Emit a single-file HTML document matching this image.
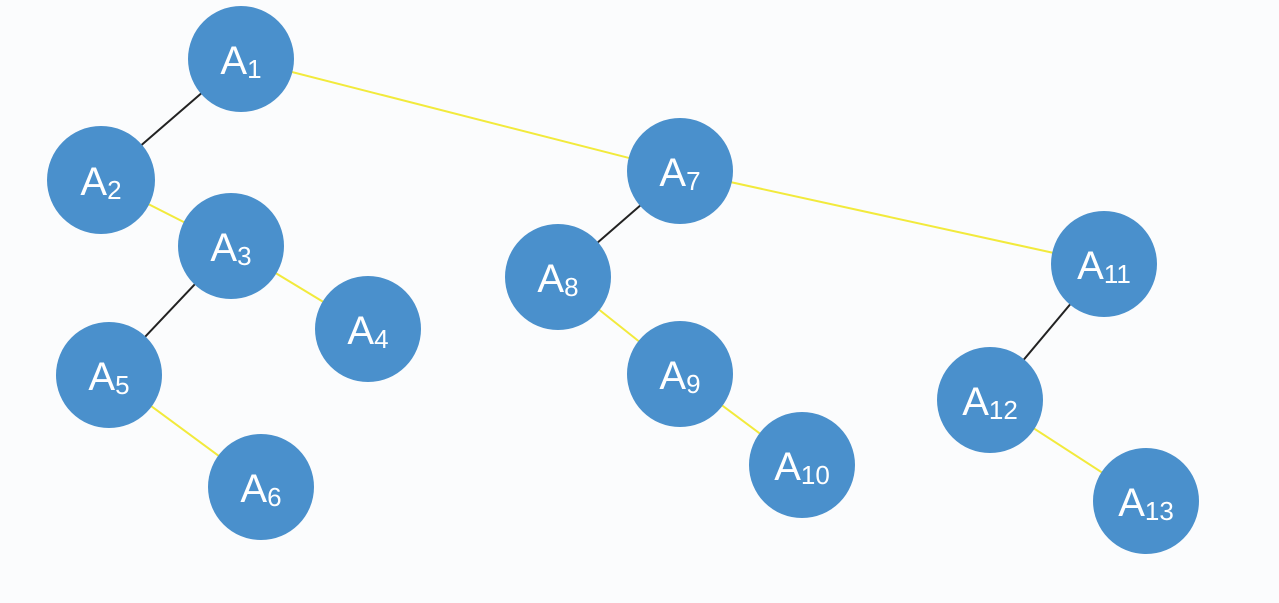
<!DOCTYPE html>
<html><head><meta charset="utf-8"><style>
html,body{margin:0;padding:0;background:#fbfcfd;}
svg{display:block}
text{font-family:"Liberation Sans",sans-serif;fill:#fff;}
</style></head><body>
<svg width="1279" height="603" viewBox="0 0 1279 603">
<rect width="1279" height="603" fill="#fbfcfd"/>
<g stroke-width="2">
<line x1="241" y1="59" x2="101" y2="180" stroke="#222"/>
<line x1="241" y1="59" x2="680" y2="171" stroke="#f2ea3c"/>
<line x1="101" y1="180" x2="231" y2="246" stroke="#f2ea3c"/>
<line x1="231" y1="246" x2="109" y2="375" stroke="#222"/>
<line x1="231" y1="246" x2="368" y2="329" stroke="#f2ea3c"/>
<line x1="109" y1="375" x2="261" y2="487" stroke="#f2ea3c"/>
<line x1="680" y1="171" x2="558" y2="277" stroke="#222"/>
<line x1="680" y1="171" x2="1104" y2="264" stroke="#f2ea3c"/>
<line x1="558" y1="277" x2="680" y2="374" stroke="#f2ea3c"/>
<line x1="680" y1="374" x2="802" y2="465" stroke="#f2ea3c"/>
<line x1="1104" y1="264" x2="990" y2="400" stroke="#222"/>
<line x1="990" y1="400" x2="1146" y2="501" stroke="#f2ea3c"/>
</g>
<g fill="#4a90cc">
<circle cx="241" cy="59" r="53"/>
<circle cx="101" cy="180" r="54"/>
<circle cx="231" cy="246" r="53"/>
<circle cx="368" cy="329" r="53"/>
<circle cx="109" cy="375" r="53"/>
<circle cx="261" cy="487" r="53"/>
<circle cx="680" cy="171" r="53"/>
<circle cx="558" cy="277" r="53"/>
<circle cx="680" cy="374" r="53"/>
<circle cx="802" cy="465" r="53"/>
<circle cx="1104" cy="264" r="53"/>
<circle cx="990" cy="400" r="53"/>
<circle cx="1146" cy="501" r="53"/>
</g>
<g text-anchor="middle">
<text x="241" y="74" font-size="40">A<tspan font-size="26" dy="4">1</tspan></text>
<text x="101" y="195" font-size="40">A<tspan font-size="26" dy="4">2</tspan></text>
<text x="231" y="261" font-size="40">A<tspan font-size="26" dy="4">3</tspan></text>
<text x="368" y="344" font-size="40">A<tspan font-size="26" dy="4">4</tspan></text>
<text x="109" y="390" font-size="40">A<tspan font-size="26" dy="4">5</tspan></text>
<text x="261" y="502" font-size="40">A<tspan font-size="26" dy="4">6</tspan></text>
<text x="680" y="186" font-size="40">A<tspan font-size="26" dy="4">7</tspan></text>
<text x="558" y="292" font-size="40">A<tspan font-size="26" dy="4">8</tspan></text>
<text x="680" y="389" font-size="40">A<tspan font-size="26" dy="4">9</tspan></text>
<text x="802" y="480" font-size="40">A<tspan font-size="26" dy="4">10</tspan></text>
<text x="1104" y="279" font-size="40">A<tspan font-size="26" dy="4">11</tspan></text>
<text x="990" y="415" font-size="40">A<tspan font-size="26" dy="4">12</tspan></text>
<text x="1146" y="516" font-size="40">A<tspan font-size="26" dy="4">13</tspan></text>
</g>
</svg>
</body></html>
